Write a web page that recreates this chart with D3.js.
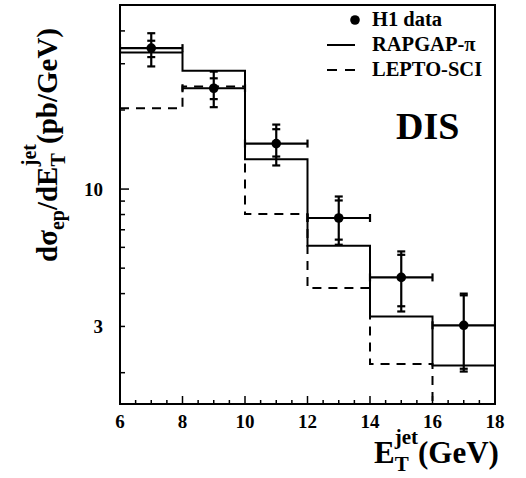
<!DOCTYPE html>
<html>
<head>
<meta charset="utf-8">
<script src="https://cdn.jsdelivr.net/npm/d3@7"></script>
<style>
  body { margin: 0; background: #fff; }
</style>
</head>
<body>
<div id="chart"></div>
<script>
// bin edges and centres (GeV)
const binEdges = [6, 8, 10, 12, 14, 16, 18];
const etCentre = [7, 9, 11, 13, 15, 17];
const etHalfWidth = [1, 1, 1, 1, 1, 1];

// H1 data (pb/GeV)
const h1Value = [34.4, 24.2, 14.9, 7.76, 4.61, 3.03];
const statHigh = [36.7, 26.4, 16.9, 9.05, 5.62, 3.94];
const statLow = [31.8, 22.0, 13.3, 6.42, 3.58, 2.07];
const totHigh = [39.2, 28.0, 17.6, 9.37, 5.79, 4.0];
const totLow = [29.3, 20.5, 12.3, 6.14, 3.42, 2.02];

// model predictions per bin
const rapgap = [33.1, 28.2, 13.0, 6.09, 3.27, 2.13];
const lepto = [20.3, 24.6, 8.03, 4.2, 2.16, 1.3];

const xTicksMajor = [6, 8, 10, 12, 14, 16, 18];
const yTickLabels = [3, 10];
const yTicksMinor = [2, 3, 4, 5, 6, 7, 8, 9, 20, 30, 40];

const width = 526, height = 478;
const margin = {top: 5, right: 31, bottom: 74, left: 120};
const serif = "'Liberation Serif', 'DejaVu Serif', serif";

let svg = d3.select("#chart").append("svg")
    .attr("width", width)
    .attr("height", height)
    .attr("font-family", serif)
    .attr("font-weight", "bold");

let xScale = d3.scaleLinear()
    .domain([6, 18])
    .range([margin.left, width - margin.right]);
let yScale = d3.scaleLog()
    .domain([1.52, 50.2])
    .range([height - margin.bottom, margin.top]);

let x0 = xScale.range()[0], x1 = xScale.range()[1];
let yB = yScale.range()[0], yT = yScale.range()[1];

svg.append("clipPath").attr("id", "frameClip")
    .append("rect")
    .attr("x", x0).attr("y", yT)
    .attr("width", x1 - x0).attr("height", yB - yT);

//Ticks on the bottom axis (inside the frame)
let xMinor = d3.range(6, 18.01, 0.5);
svg.append("g").selectAll("line")
    .data(xMinor)
    .join("line")
    .attr("x1", d => xScale(d)).attr("x2", d => xScale(d))
    .attr("y1", yB)
    .attr("y2", d => yB - (xTicksMajor.includes(d) ? 8 : 4))
    .attr("stroke", "#000").attr("stroke-width", 1.5);

svg.append("g").selectAll("text")
    .data(xTicksMajor)
    .join("text")
    .attr("x", d => xScale(d))
    .attr("y", 428)
    .attr("text-anchor", "middle")
    .attr("font-size", 19)
    .text(d => d);

//Ticks on the left axis
svg.append("g").selectAll("line")
    .data(yTicksMinor.concat([10]))
    .join("line")
    .attr("x1", x0)
    .attr("x2", d => x0 + (d === 10 ? 9 : 5))
    .attr("y1", d => yScale(d)).attr("y2", d => yScale(d))
    .attr("stroke", "#000").attr("stroke-width", 1.5);

svg.append("g").selectAll("text")
    .data(yTickLabels)
    .join("text")
    .attr("x", 103)
    .attr("y", d => yScale(d) + 7)
    .attr("text-anchor", "end")
    .attr("font-size", 19)
    .text(d => d);

//Histograms
let stepLine = d3.line()
    .x(d => xScale(d[0]))
    .y(d => yScale(d[1]))
    .curve(d3.curveStepAfter);

function stepPoints(vals) {
    let pts = vals.map((v, i) => [binEdges[i], v]);
    pts.push([binEdges[binEdges.length - 1], vals[vals.length - 1]]);
    return pts;
}

let plot = svg.append("g").attr("clip-path", "url(#frameClip)");

plot.append("path")
    .attr("d", stepLine(stepPoints(rapgap)))
    .attr("fill", "none").attr("stroke", "#000").attr("stroke-width", 2);

plot.append("path")
    .attr("d", stepLine(stepPoints(lepto)))
    .attr("fill", "none").attr("stroke", "#000").attr("stroke-width", 2)
    .attr("stroke-dasharray", "9,7");

//Data points with error bars
let pts = etCentre.map((c, i) => ({
    x: c, hw: etHalfWidth[i], y: h1Value[i],
    sHi: statHigh[i], sLo: statLow[i], tHi: totHigh[i], tLo: totLow[i]
}));
let cap = 4;
let g = plot.append("g").attr("stroke", "#000").attr("stroke-width", 2.2);
pts.forEach(p => {
    let cx = xScale(p.x), cy = yScale(p.y);
    let xl = xScale(p.x - p.hw), xr = xScale(p.x + p.hw);
    g.append("line").attr("x1", xl).attr("x2", xr).attr("y1", cy).attr("y2", cy);
    g.append("line").attr("x1", xl).attr("x2", xl).attr("y1", cy - cap).attr("y2", cy + cap);
    g.append("line").attr("x1", xr).attr("x2", xr).attr("y1", cy - cap).attr("y2", cy + cap);
    g.append("line").attr("x1", cx).attr("x2", cx)
        .attr("y1", yScale(p.tHi)).attr("y2", yScale(p.tLo));
    [p.sHi, p.sLo, p.tHi, p.tLo].forEach(v => {
        g.append("line").attr("x1", cx - cap).attr("x2", cx + cap)
            .attr("y1", yScale(v)).attr("y2", yScale(v));
    });
    plot.append("circle").attr("cx", cx).attr("cy", cy).attr("r", 4.8).attr("fill", "#000");
});

//Frame
svg.append("rect")
    .attr("x", x0).attr("y", yT)
    .attr("width", x1 - x0).attr("height", yB - yT)
    .attr("fill", "none").attr("stroke", "#000").attr("stroke-width", 2);

//Legend
let leg = svg.append("g");
leg.append("circle").attr("cx", 355).attr("cy", 20).attr("r", 4.8).attr("fill", "#000");
leg.append("line").attr("x1", 327).attr("x2", 355).attr("y1", 45).attr("y2", 45)
    .attr("stroke", "#000").attr("stroke-width", 2);
leg.append("line").attr("x1", 327).attr("x2", 355).attr("y1", 70).attr("y2", 70)
    .attr("stroke", "#000").attr("stroke-width", 2).attr("stroke-dasharray", "10,8");
[["H1 data", 26], ["RAPGAP-\u03c0", 51], ["LEPTO-SCI", 76]].forEach(d => {
    leg.append("text").attr("x", 372).attr("y", d[1]).attr("font-size", 20.5).text(d[0]);
});

svg.append("text").attr("x", 396).attr("y", 139).attr("font-size", 38).text("DIS");

//Axis titles
let xt = svg.append("text").attr("x", 374).attr("y", 463).attr("font-size", 31);
xt.append("tspan").text("E");
xt.append("tspan").attr("font-size", 21).attr("dy", 8).text("T");
xt.append("tspan").attr("font-size", 21).attr("dx", -14).attr("dy", -27).text("jet");
xt.append("tspan").attr("dy", 19).text("(GeV)");

let yt = svg.append("text").attr("transform", "rotate(-90)")
    .attr("x", -262).attr("y", 57).attr("font-size", 29);
yt.append("tspan").text("d\u03c3");
yt.append("tspan").attr("font-size", 20).attr("dy", 7).text("ep");
yt.append("tspan").attr("dy", -7).text("/dE");
yt.append("tspan").attr("font-size", 20).attr("dy", 8).text("T");
yt.append("tspan").attr("font-size", 20).attr("dx", -13).attr("dy", -29).text("jet");
yt.append("tspan").attr("dy", 21).text("(pb/GeV)");
</script>
</body>
</html>
